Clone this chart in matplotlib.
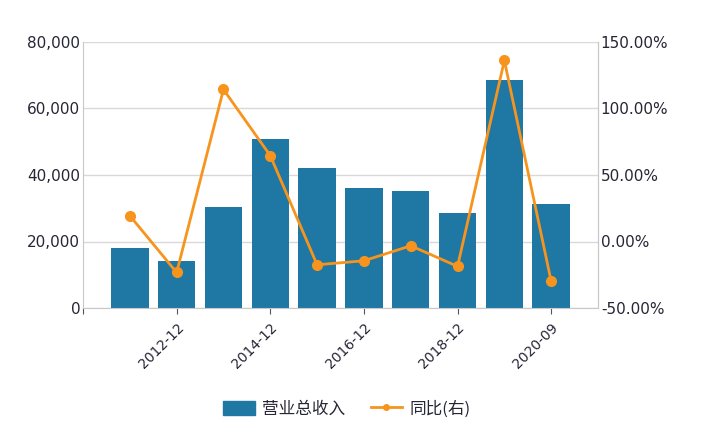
import matplotlib
matplotlib.use("Agg")
import matplotlib.pyplot as plt
from matplotlib.ticker import FuncFormatter
from matplotlib.patches import Patch
from matplotlib.lines import Line2D
import numpy as np

categories = ["2011-12", "2012-12", "2013-12", "2014-12", "2015-12",
              "2016-12", "2017-12", "2018-12", "2019-12", "2020-09"]
revenue = [17950, 14250, 30400, 50700, 42050, 36000, 35100, 28700, 68550, 31300]
yoy = [19.4, -23.3, 114.3, 64.6, -17.5, -14.5, -3.2, -18.7, 136.1, -30.0]
shown_labels = ["2012-12", "2014-12", "2016-12", "2018-12", "2020-09"]

bar_color = "#1f77a3"
line_color = "#f7941d"
grid_color = "#d9d9d9"
text_color = "#262636"

plt.rcParams['font.family'] = ['DejaVu Sans']
fig = plt.figure(figsize=(7.25, 4.41), dpi=100)
ax = fig.add_axes([83/725, 1-308/441, (598-83)/725, (308-42)/441])
x = np.arange(len(categories))
ax.bar(x, revenue, width=0.8, color=bar_color, zorder=2)
ax.set_ylim(0, 80000)
ax.set_xlim(-1, 10)
ax.set_yticks([0, 20000, 40000, 60000, 80000])
ax.yaxis.set_major_formatter(FuncFormatter(lambda v, p: f"{int(v):,}"))
ax.grid(axis='y', color=grid_color, linewidth=1, zorder=0)
ax.set_axisbelow(True)

tick_pos = [-1] + [categories.index(c) for c in shown_labels]
ax.set_xticks(tick_pos)
ax.set_xticklabels([""] + shown_labels, rotation=45, ha='right',
                   rotation_mode='anchor', fontsize=10, color=text_color)
ax.tick_params(axis='x', length=4, color='#555555', pad=5)
ax.tick_params(axis='y', length=0, labelsize=11, labelcolor=text_color, pad=2)

ax.spines['top'].set_visible(False)
for s in ['left', 'right', 'bottom']:
    ax.spines[s].set_color('#c8c8c8')

ax2 = ax.twinx()
ax2.plot(x, yoy, color=line_color, linewidth=2, marker='o', markersize=7, zorder=3)
ax2.set_ylim(-50, 150)
ax2.set_yticks([-50, 0, 50, 100, 150])
ax2.yaxis.set_major_formatter(FuncFormatter(lambda v, p: f"{v:.2f}%"))
ax2.tick_params(axis='y', length=0, labelsize=11, labelcolor=text_color, pad=2)
for s in ['top', 'left', 'bottom']:
    ax2.spines[s].set_visible(False)
ax2.spines['right'].set_color('#c8c8c8')

handles = [Patch(facecolor=bar_color, edgecolor=bar_color),
           Line2D([0], [0], color=line_color, linewidth=2, marker='o', markersize=4)]
fig.legend(handles, ["营业总收入", "同比(右)"], loc='center', bbox_to_anchor=(347/725, 1-409/441),
           ncol=2, frameon=False, prop={'family': ['Noto Sans CJK SC', 'DejaVu Sans'], 'size': 12},
           handlelength=1.9, handleheight=0.9, columnspacing=1.5, handletextpad=0.45,
           labelcolor=text_color)

fig.savefig("out.png", dpi=100)
